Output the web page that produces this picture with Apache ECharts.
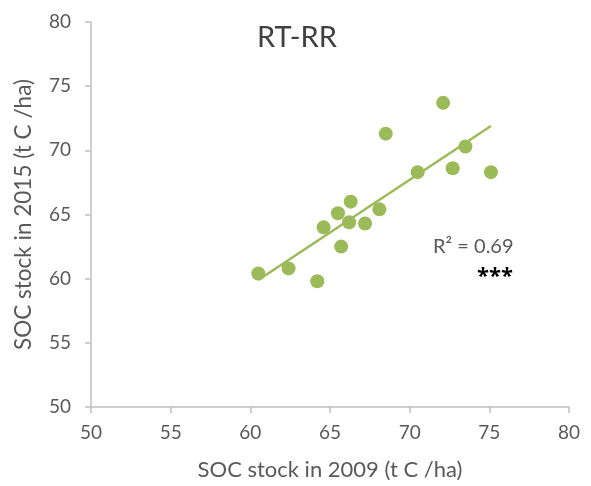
<!DOCTYPE html>
<html><head><meta charset="utf-8">
<script src="https://cdn.jsdelivr.net/npm/echarts@6/dist/echarts.min.js"></script>
<style>html,body{margin:0;padding:0;background:#fff}#c{width:591px;height:486px}</style>
</head><body><div id="c"></div>
<script>
const soc2009 = [60.5, 62.4, 64.2, 64.6, 65.7, 65.5, 66.2, 66.3, 67.2, 68.1, 68.5, 70.5, 72.1, 72.7, 73.5, 75.1];
const soc2015 = [60.4, 60.8, 59.8, 64.0, 62.5, 65.1, 64.4, 66.0, 64.3, 65.4, 71.3, 68.3, 73.7, 68.6, 70.3, 68.3];
const trendX = [60.5, 75.1];
const trendY = [59.9, 71.9];
const title = 'RT-RR';
const r2Text = 'R² = 0.69';
const sigText = '***';

const font = 'Lato, "Open Sans", sans-serif';
const chart = echarts.init(document.getElementById('c'));
chart.setOption({
  animation: false,
  backgroundColor: '#fff',
  title: { text: title, left: 252, top: 18, textStyle: { fontFamily: font, fontSize: 29, fontWeight: 'normal', color: '#404040' } },
  grid: { left: 91, right: 22, top: 22, bottom: 76 },
  xAxis: {
    type: 'value', min: 50, max: 80, interval: 5,
    name: 'SOC stock in 2009 (t C /ha)', nameLocation: 'middle', nameGap: 52,
    nameTextStyle: { fontFamily: font, fontSize: 22, color: '#595959' },
    axisLine: { show: true, lineStyle: { color: '#bfbfbf', width: 1.5 } },
    axisTick: { show: true, length: 6, lineStyle: { color: '#bfbfbf', width: 1.5 } },
    axisLabel: { fontFamily: font, fontSize: 19, color: '#595959', margin: 16 },
    splitLine: { show: false }
  },
  yAxis: {
    type: 'value', min: 50, max: 80, interval: 5,
    name: 'SOC stock in 2015 (t C /ha)', nameLocation: 'middle', nameGap: 56, nameRotate: 90,
    nameTextStyle: { fontFamily: font, fontSize: 22.5, color: '#595959' },
    axisLine: { show: true, lineStyle: { color: '#bfbfbf', width: 1.5 } },
    axisTick: { show: true, length: 6, lineStyle: { color: '#bfbfbf', width: 1.5 } },
    axisLabel: { fontFamily: font, fontSize: 19, color: '#595959', margin: 20 },
    splitLine: { show: false }
  },
  series: [
    {
      type: 'line', data: trendX.map((x, i) => [x, trendY[i]]), showSymbol: false, symbol: 'none',
      lineStyle: { color: '#9BBB59', width: 2.5 }, z: 1
    },
    {
      type: 'scatter', data: soc2009.map((x, i) => [x, soc2015[i]]), symbolSize: 14,
      itemStyle: { color: '#9BBB59', opacity: 1 }, z: 2
    }
  ],
  graphic: [
    { type: 'text', left: 433, top: 237, style: { text: r2Text, fontFamily: font, fontSize: 20, fill: '#595959' } },
    { type: 'text', left: 477, top: 266, style: { text: sigText, fontFamily: '"Open Sans", sans-serif', fontSize: 22, fontWeight: 'bold', fill: '#000' } }
  ]
});
</script></body></html>
